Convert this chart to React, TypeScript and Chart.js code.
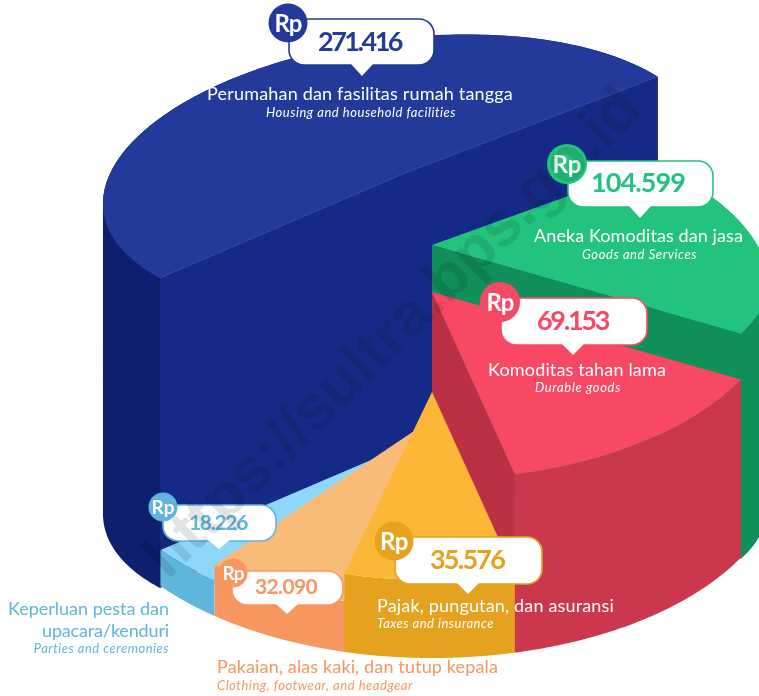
import React, { useEffect, useRef } from "react";
import { Chart, registerables } from "chart.js";

Chart.register(...registerables);

// ---- data ----
const categories = [
  "Aneka Komoditas dan jasa",
  "Komoditas tahan lama",
  "Pajak, pungutan, dan asuransi",
  "Pakaian, alas kaki, dan tutup kepala",
  "Keperluan pesta dan upacara/kenduri",
  "Perumahan dan fasilitas rumah tangga",
];
const categoriesEnglish = [
  "Goods and Services",
  "Durable goods",
  "Taxes and insurance",
  "Clothing, footwear, and headgear",
  "Parties and ceremonies",
  "Housing and household facilities",
];
const values = [104599, 69153, 35576, 32090, 18226, 271416];
const watermark = "https://sultra.bps.go.id";

// ---- styles ----
const topColors = ["#22c47d", "#f84863", "#fcb736", "#f8bc78", "#8dd7fb", "#233a9b"];
const outerWallColors = ["#109058", "#cb384d", "#e4a21f", "#f8965f", "#5fb6dc", "#0d1f6e"];
const radialWallColors = ["#109058", "#bc3046", "#e4a21f", "#f8965f", "#5fb6dc", "#152a86"];
const sliceLifts = [225, 178, 78, 51, 36, 310];
const paintOrder = [5, 0, 1, 4, 3, 2];
const accentColors = ["#22c47d", "#f84863", "#e4a21f", "#f8965f", "#5fb6dc", "#233a9b"];
const FONT = 'Lato, "Open Sans", sans-serif';
const PIE_ROTATION = 56.5;
const GROUND = { x: 432, y: 470, rx: 345, ry: 188 };

type Projection = { o: number[]; a: number[]; b: number[]; local: boolean; walls: string[] };
const deg = Math.PI / 180;

// The picture's 3D drawing is not a pure ellipse: these are the surface projections per slice.
const projections: Projection[] = [
  { o: [432, 245], a: [225, -81], b: [249, 122], local: true, walls: ["end"] },
  { o: [GROUND.x, GROUND.y - sliceLifts[1]], a: [GROUND.rx + 4, 0], b: [0, GROUND.ry], local: false, walls: ["end"] },
  { o: [GROUND.x, GROUND.y - sliceLifts[2]], a: [GROUND.rx + 4, 0], b: [0, GROUND.ry], local: false, walls: [] },
  { o: [GROUND.x, GROUND.y - sliceLifts[3]], a: [GROUND.rx, 0], b: [0, GROUND.ry], local: false, walls: [] },
  { o: [GROUND.x, GROUND.y - sliceLifts[4]], a: [GROUND.rx, 0], b: [0, GROUND.ry], local: false, walls: [] },
  { o: [403, 174], a: [-243, 104], b: [-176, -93], local: true, walls: ["start", "end"] },
];

// Perspective warp of the front of the pie.
const warp = (angle: number) => {
  const d = angle / deg;
  const s = Math.sin(((d + 33.5) * 180) / 176 * deg);
  return (d - 10 * s * s - 0.6) * deg;
};

const point = (p: Projection, ref: number, angle: number) => {
  const t = angle - ref;
  return [
    p.o[0] + Math.cos(t) * p.a[0] + Math.sin(t) * p.b[0],
    p.o[1] + Math.cos(t) * p.a[1] + Math.sin(t) * p.b[1],
  ];
};

const fmt = (v: number) => String(v).replace(/\B(?=(\d{3})+$)/g, ".");

type Line = { t: string; x: number; y: number; align: CanvasTextAlign; w: number; italic?: boolean };
type Callout = {
  box: number[]; tail: number; tailY: number; rp: number[]; rpFont: number; rpW: number;
  num: number[]; numFont: number; numW: number; titles: Line[]; titleColor: string;
};

const callouts: Callout[] = [
  {
    box: [568, 161, 713, 207], tail: 640, tailY: 218, rp: [567, 164, 20], rpFont: 24, rpW: 29,
    num: [638, 183], numFont: 27, numW: 94,
    titles: [
      { t: categories[0], x: 638.5, y: 236, align: "center", w: 209 },
      { t: categoriesEnglish[0], x: 639.5, y: 255, align: "center", w: 115, italic: true },
    ],
    titleColor: "#ffffff",
  },
  {
    box: [501, 298, 647, 345], tail: 573, tailY: 355, rp: [500, 302, 20], rpFont: 24, rpW: 27,
    num: [572.5, 321], numFont: 27, numW: 71,
    titles: [
      { t: categories[1], x: 577, y: 370, align: "center", w: 178 },
      { t: categoriesEnglish[1], x: 578, y: 388, align: "center", w: 86, italic: true },
    ],
    titleColor: "#ffffff",
  },
  {
    box: [395, 537, 542, 584], tail: 468, tailY: 594, rp: [394, 541, 19.5], rpFont: 24, rpW: 28,
    num: [467, 560], numFont: 27, numW: 74,
    titles: [
      { t: categories[2], x: 377, y: 606, align: "left", w: 237 },
      { t: categoriesEnglish[2], x: 377, y: 624, align: "left", w: 117, italic: true },
    ],
    titleColor: "#ffffff",
  },
  {
    box: [232, 571, 343, 605], tail: 287, tailY: 614, rp: [233, 573, 14.5], rpFont: 19, rpW: 21,
    num: [286, 587], numFont: 21, numW: 62,
    titles: [
      { t: categories[3], x: 217, y: 667, align: "left", w: 281 },
      { t: categoriesEnglish[3], x: 217, y: 686, align: "left", w: 196, italic: true },
    ],
    titleColor: "#f8965f",
  },
  {
    box: [163, 505, 276, 541], tail: 219, tailY: 549, rp: [163, 507, 14.5], rpFont: 19, rpW: 23,
    num: [218, 523], numFont: 21, numW: 58,
    titles: [
      { t: "Keperluan pesta dan", x: 169, y: 609, align: "right", w: 161 },
      { t: "upacara/kenduri", x: 169, y: 631, align: "right", w: 127 },
      { t: categoriesEnglish[4], x: 169, y: 649, align: "right", w: 135, italic: true },
    ],
    titleColor: "#5fb6dc",
  },
  {
    box: [289, 19, 434, 65], tail: 362, tailY: 76, rp: [288, 23, 19.5], rpFont: 24, rpW: 27,
    num: [359.5, 42], numFont: 27, numW: 83,
    titles: [
      { t: categories[5], x: 360, y: 94, align: "center", w: 306 },
      { t: categoriesEnglish[5], x: 361, y: 113, align: "center", w: 190, italic: true },
    ],
    titleColor: "#ffffff",
  },
];

// Draw text so that it takes the reference's width (the original face is not installed).
const fitText = (ctx: any, text: string, x: number, y: number, width: number) => {
  ctx.letterSpacing = "0px";
  const natural = ctx.measureText(text).width;
  ctx.letterSpacing = `${(width - natural) / text.length}px`;
  ctx.fillText(text, x, y);
  ctx.letterSpacing = "0px";
};

const extrudedPie = {
  id: "extrudedPie",
  beforeDatasetsDraw(chart: any) {
    const ctx: CanvasRenderingContext2D = chart.ctx;
    const arcs = chart.getDatasetMeta(0).data;
    paintOrder.forEach((i) => {
      const el = arcs[i];
      const p = projections[i];
      const lift = sliceLifts[i];
      const saved = [el.startAngle, el.endAngle, el.circumference];
      const start = p.local ? el.startAngle : warp(el.startAngle);
      const end = p.local ? el.endAngle : warp(el.endAngle);
      const ref = p.local ? el.startAngle : 0;

      // outer wall: one consistently wound vertical strip per arc step
      const steps = 180;
      ctx.beginPath();
      for (let s = 0; s < steps; s++) {
        let a = point(p, ref, start + ((end - start) * s) / steps);
        let b = point(p, ref, start + ((end - start) * (s + 1)) / steps);
        if (a[0] > b[0]) [a, b] = [b, a];
        ctx.moveTo(a[0], a[1]);
        ctx.lineTo(b[0], b[1]);
        ctx.lineTo(b[0], b[1] + lift);
        ctx.lineTo(a[0], a[1] + lift);
        ctx.closePath();
      }
      ctx.fillStyle = outerWallColors[i];
      ctx.fill();

      // radial walls
      p.walls.forEach((w) => {
        const [x, y] = point(p, ref, w === "start" ? start : end);
        ctx.beginPath();
        ctx.moveTo(p.o[0], p.o[1]);
        ctx.lineTo(x, y);
        ctx.lineTo(x, y + lift);
        ctx.lineTo(p.o[0], p.o[1] + lift);
        ctx.closePath();
        ctx.fillStyle = radialWallColors[i];
        ctx.fill();
      });

      // top surface: the library's own arc element under the projection
      const R = el.outerRadius;
      el.startAngle = start;
      el.endAngle = end;
      el.circumference = end - start;
      ctx.save();
      ctx.translate(p.o[0], p.o[1]);
      ctx.transform(p.a[0] / R, p.a[1] / R, p.b[0] / R, p.b[1] / R, 0, 0);
      ctx.rotate(-ref);
      ctx.translate(-el.x, -el.y);
      el.draw(ctx);
      ctx.restore();
      [el.startAngle, el.endAngle, el.circumference] = saved;

      // faint highlight along the cut edges of the largest slice
      if (p.walls.length === 2) {
        const s0 = point(p, ref, start);
        const e0 = point(p, ref, end);
        ctx.beginPath();
        ctx.moveTo(s0[0], s0[1]);
        ctx.lineTo(p.o[0], p.o[1]);
        ctx.lineTo(e0[0], e0[1]);
        ctx.strokeStyle = "rgba(255,255,255,0.22)";
        ctx.lineWidth = 0.6;
        ctx.stroke();
      }
    });
    return false;
  },
  afterDraw(chart: any) {
    const ctx: CanvasRenderingContext2D = chart.ctx;
    ctx.save();
    ctx.textBaseline = "middle";
    labelOrder.forEach((i) => {
      const c = callouts[i];
      const color = accentColors[i];
      const [x0, y0, x1, y1] = c.box;
      ctx.beginPath();
      ctx.roundRect(x0, y0, x1 - x0, y1 - y0, 15);
      ctx.fillStyle = "#ffffff";
      ctx.strokeStyle = color;
      ctx.lineWidth = 1.6;
      ctx.fill();
      ctx.stroke();
      // tail
      ctx.beginPath();
      ctx.moveTo(c.tail - 11, y1 - 1);
      ctx.lineTo(c.tail, c.tailY);
      ctx.lineTo(c.tail + 11, y1 - 1);
      ctx.closePath();
      ctx.fillStyle = "#ffffff";
      ctx.fill();
      // Rp badge
      ctx.beginPath();
      ctx.arc(c.rp[0], c.rp[1], c.rp[2], 0, Math.PI * 2);
      ctx.fillStyle = color;
      ctx.fill();
      ctx.fillStyle = "#ffffff";
      ctx.textAlign = "center";
      ctx.font = `700 ${c.rpFont}px ${FONT}`;
      fitText(ctx, "Rp", c.rp[0], c.rp[1] + 1, c.rpW);
      // value
      ctx.fillStyle = color;
      ctx.font = `700 ${c.numFont}px ${FONT}`;
      fitText(ctx, fmt(values[i]), c.num[0], c.num[1], c.numW);
      // names
      c.titles.forEach((t) => {
        ctx.fillStyle = c.titleColor;
        ctx.textAlign = t.align;
        ctx.font = `${t.italic ? "italic " : ""}400 ${t.italic ? 13 : 18}px ${FONT}`;
        fitText(ctx, t.t, t.x, t.y, t.w);
      });
    });
    // watermark
    ctx.translate(394, 334);
    ctx.rotate(-44.5 * deg);
    ctx.textAlign = "center";
    ctx.fillStyle = "rgba(0,0,0,0.11)";
    ctx.font = '700 62px "Liberation Sans", sans-serif';
    ctx.fillText(watermark, 0, 0);
    ctx.restore();
  },
};
const labelOrder = [5, 0, 1, 4, 3, 2];

export default function App() {
  const ref = useRef<HTMLCanvasElement>(null);
  useEffect(() => {
    const chart = new Chart(ref.current!, {
      type: "pie",
      data: {
        labels: categories,
        datasets: [{ data: values, backgroundColor: topColors, borderWidth: 0 }],
      },
      options: {
        animation: false,
        responsive: false,
        rotation: PIE_ROTATION,
        plugins: { legend: { display: false }, tooltip: { enabled: false } },
      },
      plugins: [extrudedPie],
    } as any);
    return () => chart.destroy();
  }, []);
  return (
    <div style={{ position: "absolute", left: 0, top: 0, width: 759, height: 696, background: "#fff" }}>
      <canvas ref={ref} width={759} height={696} style={{ display: "block" }} />
    </div>
  );
}
